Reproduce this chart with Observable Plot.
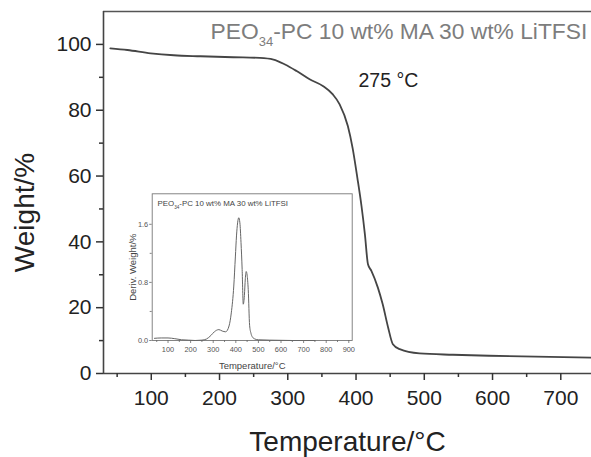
<!DOCTYPE html>
<html><head><meta charset="utf-8">
<script src="https://cdn.jsdelivr.net/npm/d3@7"></script>
<script src="https://cdn.jsdelivr.net/npm/@observablehq/plot@0.6"></script>
<style>
html,body{margin:0;padding:0;background:#fff;overflow:hidden}
#wrap{position:relative;width:591px;height:457px}
#wrap svg{position:absolute;left:0;top:0}
</style></head><body><div id="wrap"></div>
<script>
// Main TGA curve (Temperature °C -> Weight %)
const tgaTemp   = [40, 65, 99, 133, 172, 220, 259, 279, 296, 313, 332, 352, 366, 376, 388, 395, 402, 408, 413, 417.5, 422.5, 432, 439, 447, 454, 464, 493, 542, 595, 745];
const tgaWeight = [98.8, 98.3, 97.3, 96.7, 96.4, 96.1, 95.9, 95.4, 93.9, 91.9, 89.4, 87.3, 84.8, 81.8, 75.2, 68.5, 59.4, 50.9, 42.3, 33.2, 31.2, 26.1, 21.1, 14.0, 8.9, 7.4, 6.1, 5.7, 5.4, 4.8];

// Inset DTG curve (Temperature °C -> Deriv. Weight %)
const dtgTemp  = [40, 70, 100, 130, 160, 190, 220, 250, 270, 290, 305, 325, 340, 355, 370, 380, 391, 398, 403, 408, 413, 418, 423, 428, 433, 438, 442, 446, 450, 455, 461, 467, 473, 485, 500, 550, 650, 750];
const dtgDeriv = [0.03, 0.035, 0.035, 0.025, 0.01, 0.005, 0.0, 0.005, 0.02, 0.07, 0.12, 0.15, 0.13, 0.12, 0.2, 0.38, 0.75, 1.15, 1.44, 1.62, 1.69, 1.62, 1.35, 0.98, 0.5, 0.62, 0.85, 0.95, 0.9, 0.7, 0.21, 0.1, 0.05, 0.02, 0.01, 0.005, 0.0, 0.0];

// Tick values
const xTicks = [100, 200, 300, 400, 500, 600, 700];
const xMinor = [50, 150, 250, 350, 450, 550, 650];
const yTicks = [0, 20, 40, 60, 80, 100];
const yMinor = [10, 30, 50, 70, 90];
const insetXTicks = [100, 200, 300, 400, 500, 600, 700, 800, 900];
const insetXMinor = [50, 150, 250, 350, 450, 550, 650, 750, 850];
const insetYTicks = [0, 0.8, 1.6];
const insetYMinor = [0.4, 1.2];

// Texts
const mainTitle = "PEO34-PC 10 wt% MA 30 wt% LiTFSI";
const annot = "275 °C";
const xLabel = "Temperature/°C";
const yLabel = "Weight/%";
const insetYLabel = "Deriv. Weight/%";

const font = "'Liberation Sans', Arial, Helvetica, sans-serif";
const tga = tgaTemp.map((t, i) => ({t, w: tgaWeight[i]}));
const dtg = dtgTemp.map((t, i) => ({t, d: dtgDeriv[i]}));
const blank = () => "";

const main = Plot.plot({
  width: 591, height: 457,
  marginLeft: 103, marginRight: 0, marginTop: 11, marginBottom: 84,
  style: {fontFamily: font, background: "transparent", color: "#333", fontSize: "21px"},
  x: {domain: [30, 745], axis: null},
  y: {domain: [0, 110], axis: null},
  marks: [
    Plot.ruleY([110], {stroke: "#555", strokeWidth: 1.5}),
    Plot.ruleY([0], {stroke: "#444", strokeWidth: 1.6}),
    Plot.ruleX([30], {stroke: "#444", strokeWidth: 1.6}),
    Plot.axisX(xTicks, {tickSize: 7, tickPadding: 10, fontSize: 21, fill: "#222", stroke: "#333", strokeWidth: 1.5, label: null}),
    Plot.axisX(xMinor, {tickSize: 4, tickFormat: blank, stroke: "#333", strokeWidth: 1.5, label: null}),
    Plot.axisY(yTicks, {tickSize: 7, tickPadding: 5, fontSize: 21, fill: "#222", stroke: "#333", strokeWidth: 1.5, label: null}),
    Plot.axisY(yMinor, {tickSize: 4, tickFormat: blank, stroke: "#333", strokeWidth: 1.5, label: null}),
    Plot.line(tga, {x: "t", y: "w", stroke: "#454545", strokeWidth: 1.8, curve: "monotone-x"}),
    Plot.text([mainTitle], {text: d => d, frameAnchor: "top-left", dx: 107, dy: 27, textAnchor: "start", lineAnchor: "bottom", fontSize: 22.8, fill: "#7d7d7d"}),
    Plot.text([annot], {text: d => d, frameAnchor: "top-left", dx: 255, dy: 75, textAnchor: "start", lineAnchor: "bottom", fontSize: 19.5, fill: "#222"}),
    Plot.text([xLabel], {text: d => d, frameAnchor: "bottom", dy: 77, textAnchor: "middle", lineAnchor: "bottom", fontSize: 28, fill: "#222"}),
    Plot.text([yLabel], {text: d => d, frameAnchor: "left", rotate: -90, dx: -70, dy: 20, textAnchor: "middle", lineAnchor: "bottom", fontSize: 28, fill: "#222"})
  ]
});

const inset = Plot.plot({
  width: 591, height: 457,
  marginLeft: 151.7, marginRight: 239.3, marginTop: 193.3, marginBottom: 117,
  style: {fontFamily: font, background: "transparent", color: "#666", fontSize: "7.4px"},
  x: {domain: [30, 915], axis: null},
  y: {domain: [0, 2.02], axis: null},
  marks: [
    Plot.frame({stroke: "#777", strokeWidth: 0.9}),
    Plot.axisX(insetXTicks, {tickSize: 3, tickPadding: 3, fontSize: 7.4, fill: "#555", strokeWidth: 0.8, label: null}),
    Plot.axisX(insetXMinor, {tickSize: 2, tickFormat: blank, strokeWidth: 0.8, label: null}),
    Plot.axisY(insetYTicks, {tickSize: 2.5, tickPadding: 1.5, fontSize: 7.4, fill: "#555", strokeWidth: 0.8, tickFormat: d3.format(".1f"), label: null}),
    Plot.axisY(insetYMinor, {tickSize: 2, tickFormat: blank, strokeWidth: 0.8, label: null}),
    Plot.line(dtg, {x: "t", y: "d", stroke: "#666", strokeWidth: 1, curve: "monotone-x"}),
    Plot.text([mainTitle], {text: d => d, frameAnchor: "top-left", dx: 5.3, dy: 12.4, textAnchor: "start", lineAnchor: "bottom", fontSize: 7.9, fill: "#444"}),
    Plot.text([xLabel], {text: d => d, frameAnchor: "bottom", dy: 28, textAnchor: "middle", lineAnchor: "bottom", fontSize: 9.5, fill: "#444"}),
    Plot.text([insetYLabel], {text: d => d, frameAnchor: "left", rotate: -90, dx: -16.7, textAnchor: "middle", lineAnchor: "bottom", fontSize: 9.5, fill: "#444"})
  ]
});

function subscriptify(svg, size, shift) {
  d3.select(svg).selectAll("text").filter(function() { return this.textContent === mainTitle; }).each(function() {
    const t = d3.select(this);
    t.text(null);
    t.append("tspan").text("PEO");
    t.append("tspan").attr("font-size", size).attr("dy", shift).text("34");
    t.append("tspan").attr("dy", -shift).text("-PC 10 wt% MA 30 wt% LiTFSI");
  });
}
subscriptify(main, 13, 7);
subscriptify(inset, 4.6, 2.4);

const wrap = document.getElementById("wrap");
wrap.appendChild(main);
wrap.appendChild(inset);
</script></body></html>
